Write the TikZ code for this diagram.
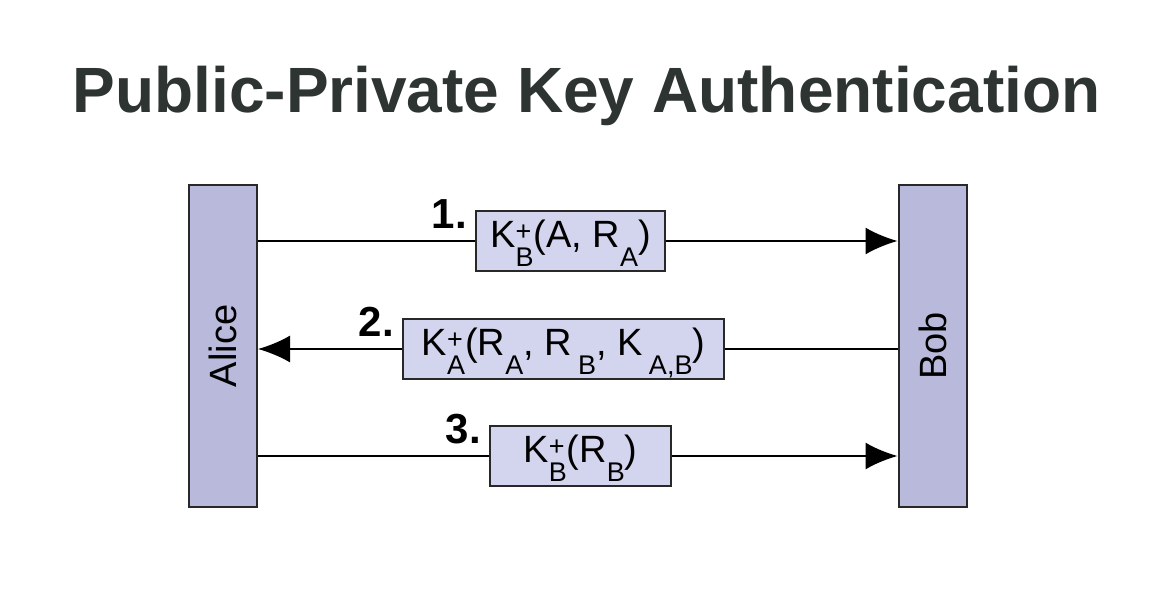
\documentclass[tikz,border=0pt]{standalone}
\usepackage{fontspec}
\setmainfont{Liberation Sans}
\usepackage{tikz}
\usetikzlibrary{arrows.meta,
                positioning}
\definecolor{titlegray}{RGB}{45,52,50}
\definecolor{barfill}{RGB}{185,186,219}
\definecolor{msgfill}{RGB}{211,212,237}
\definecolor{edgegray}{RGB}{40,40,40}
% lowered index and stacked upper/lower index
\newcommand\lo[1]{\raisebox{-19pt}{\fontsize{27}{28}\selectfont #1}}
\newcommand\hilo[2]{\rlap{\raisebox{7pt}{\fontsize{27}{28}\selectfont #1}}\lo{#2}}

\begin{document}
\begin{tikzpicture}[x=1pt, y=-1pt,
   BAR/.style = {draw=edgegray, line width=2pt, fill=barfill,
                 minimum width=68pt, minimum height=322pt,
                 inner sep=0pt},
   MSG/.style = {draw=edgegray, line width=2pt, fill=msgfill,
                 minimum height=60pt, inner sep=0pt,
                 text height=25pt, text depth=13pt,
                 font=\fontsize{38}{40}\selectfont},
   NUM/.style = {anchor=base east, inner sep=0pt,
                 font=\fontsize{42}{46}\selectfont\bfseries},
  LINE/.style = {line width=2pt},
    AR/.style = {-{Latex[length=32pt,width=27pt]}}
                    ]
\useasboundingbox (0,0) rectangle (1176,600);
% title
\node[anchor=base, text=titlegray,
      font=\fontsize{64}{70}\selectfont\bfseries] (title) at (586.5,112)
      {Public-Private Key Authentication};
% parties
\node (alice) [BAR, label={[rotate=90,font=\fontsize{38}{40}\selectfont]center:Alice}]
      at (223,346) {};
\node (bob)   [BAR, label={[rotate=90,font=\fontsize{38}{40}\selectfont]center:Bob}]
      at (932.5,346) {};
% messages
\node (m1) [MSG, minimum width=189pt] at (570.5,241)
      {K\hilo{+}{B}(A, R\lo{A})};
\node (m2) [MSG, minimum width=321pt] at (563.5,349)
      {K\hilo{+}{A}(R\lo{A}, R\,\lo{B}, K\,\lo{A,B})};
\node (m3) [MSG, minimum width=181pt] at (580.5,456)
      {K\hilo{+}{B}(R\lo{B})};
% step numbers
\node (n1) [NUM] at ([xshift=-8pt,yshift=-18pt]m1.north west) {1.};
\node (n2) [NUM] at ([xshift=-8pt,yshift=-18pt]m2.north west) {2.};
\node (n3) [NUM] at ([xshift=-8pt,yshift=-18pt]m3.north west) {3.};
% connectors
\draw[LINE]    (alice.east |- m1.west) -- (m1.west);
\draw[LINE,AR] (m1.east) -- (bob.west |- m1.east);
\draw[LINE]    (bob.west |- m2.east) -- (m2.east);
\draw[LINE,AR] (m2.west) -- (alice.east |- m2.west);
\draw[LINE]    (alice.east |- m3.west) -- (m3.west);
\draw[LINE,AR] (m3.east) -- (bob.west |- m3.east);
\end{tikzpicture}
\end{document}
